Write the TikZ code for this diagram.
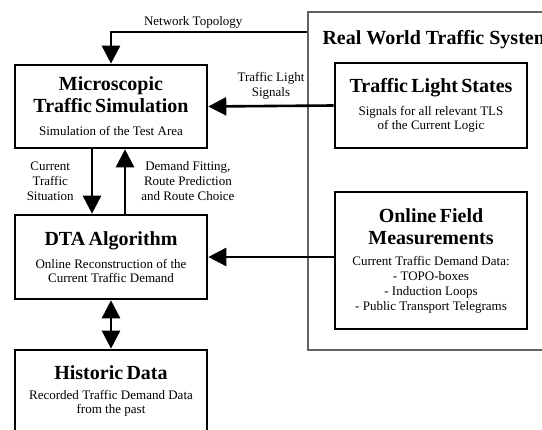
\documentclass[tikz,border=0pt]{standalone}
\usepackage{fontspec}
\setmainfont{Liberation Serif}
\usetikzlibrary{arrows.meta, positioning}

\newcommand{\blocktitle}{\fontsize{20}{22}\selectfont\bfseries}
\newcommand{\blocksub}{\fontsize{13}{14}\selectfont}

\tikzset{
  block/.style={draw, rectangle, line width=2.6pt, text width=184pt, inner xsep=4pt, align=center},
  flow/.style={line width=2.6pt, -{Triangle[length=18pt, width=18pt]}},
  lbl/.style={font=\fontsize{13}{15}\selectfont, align=center, inner sep=2pt},
}

\begin{document}
\begin{tikzpicture}[x=1pt, y=-1pt]
 \useasboundingbox (0,0) rectangle (542,430);

 % real world part
 \node[draw=black!62, line width=2.6pt, rectangle, minimum width=262pt, minimum height=338pt] (rw) at (439,181) {};
 \node[anchor=base west, font=\blocktitle] (rwtitle) at (319,45) {Real World Traffic System};

 \node[block, minimum height=85pt] (tls) at (431,105.5)
   {{\blocktitle Traffic Light States\par}\vspace{9pt}{\blocksub Signals for all relevant TLS\\of the Current Logic\par}};
 \node[block, minimum height=137pt] (ofm) at (431,260.5)
   {{\blocktitle Online Field\\Measurements\par}\vspace{6pt}{\fontsize{13}{15}\selectfont Current Traffic Demand Data:\\- TOPO-boxes\\- Induction Loops\\- Public Transport Telegrams\par}};

 % model part
 \node[block, minimum height=83pt] (micro) at (111,106.5)
   {{\blocktitle Microscopic\\Traffic Simulation\par}\vspace{9pt}{\blocksub Simulation of the Test Area\par}};
 \node[block, minimum height=84pt] (dta) at (111,257)
   {{\blocktitle DTA Algorithm\par}\vspace{9pt}{\blocksub Online Reconstruction of the\\Current Traffic Demand\par}};
 \node[block, minimum height=82pt] (hist) at (111,391)
   {{\blocktitle Historic Data\par}\vspace{6pt}{\blocksub Recorded Traffic Demand Data\\from the past\par}};

 % connections
 \draw[flow] (rw.west |- 0,32) -| node[lbl, pos=0.29, above] {Network Topology} (micro.north);
 \draw[flow] (tls.west) -- node[lbl, above=3pt] {Traffic Light\\Signals} (micro.east);
 \draw[flow] ([xshift=-19pt]micro.south) -- node[lbl, left=15pt] {Current\\Traffic\\Situation} ([xshift=-19pt]dta.north);
 \draw[flow] ([xshift=14pt]dta.north) -- node[lbl, right=13pt] {Demand Fitting,\\Route Prediction\\and Route Choice} ([xshift=14pt]micro.south);
 \draw[flow] (ofm.west |- dta.east) -- (dta.east);
 \draw[flow, {Triangle[length=18pt, width=18pt]}-{Triangle[length=18pt, width=18pt]}] (dta.south) -- (hist.north);
\end{tikzpicture}
\end{document}
